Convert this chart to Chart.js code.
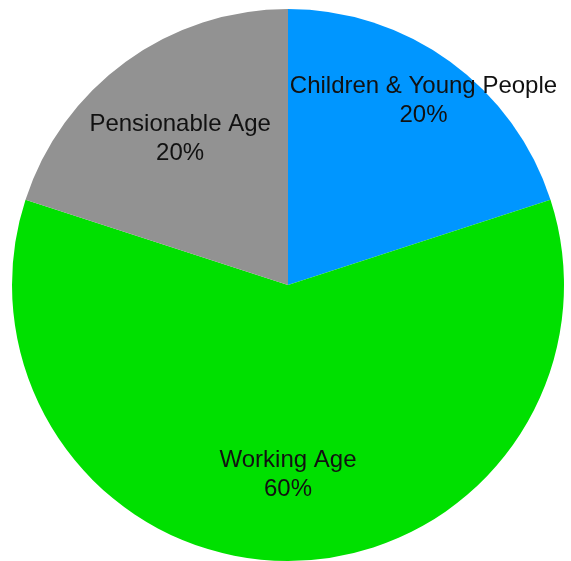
<!DOCTYPE html>
<html>
<head>
<meta charset="utf-8">
<script src="https://cdn.jsdelivr.net/npm/chart.js@4/dist/chart.umd.min.js"></script>
<style>
  html, body { margin: 0; padding: 0; background: #fff; }
  #wrap { width: 571px; height: 561px; }
</style>
</head>
<body>
<div id="wrap"><canvas id="chart" width="571" height="561"></canvas></div>
<script>
const categories = ["Children & Young People", "Working Age", "Pensionable Age"];
const values = [20, 60, 20];
const sliceColors = ["#0096ff", "#00e000", "#929292"];

// draws "name" + "xx%" inside each slice
const sliceLabels = {
  id: "sliceLabels",
  afterDatasetsDraw(chart, args, opts) {
    const ctx = chart.ctx;
    const meta = chart.getDatasetMeta(0);
    const total = values.reduce((a, b) => a + b, 0);
    ctx.save();
    ctx.fillStyle = "#111";
    ctx.font = "24px 'Liberation Sans', Arial, sans-serif";
    ctx.textAlign = "center";
    ctx.textBaseline = "middle";
    meta.data.forEach((arc, i) => {
      const p = arc.getProps(["x", "y", "startAngle", "endAngle", "outerRadius"], true);
      const mid = (p.startAngle + p.endAngle) / 2;
      const r = p.outerRadius * opts.radius[i];
      const cx = p.x + Math.cos(mid) * r;
      const cy = p.y + Math.sin(mid) * r;
      const pct = Math.round(values[i] / total * 100) + "%";
      ctx.fillText(categories[i], cx, cy - 12);
      ctx.fillText(pct, cx, cy + 17);
    });
    ctx.restore();
  }
};

new Chart(document.getElementById("chart"), {
  type: "pie",
  data: {
    labels: categories,
    datasets: [{
      data: values,
      backgroundColor: sliceColors,
      borderWidth: 0,
    }],
  },
  options: {
    responsive: false,
    animation: false,
    layout: { padding: { top: 9, bottom: 0, left: 12, right: 7 } },
    plugins: {
      legend: { display: false },
      tooltip: { enabled: false },
      sliceLabels: { radius: [0.835, 0.68, 0.665] },
    },
  },
  plugins: [sliceLabels],
});
</script>
</body>
</html>
